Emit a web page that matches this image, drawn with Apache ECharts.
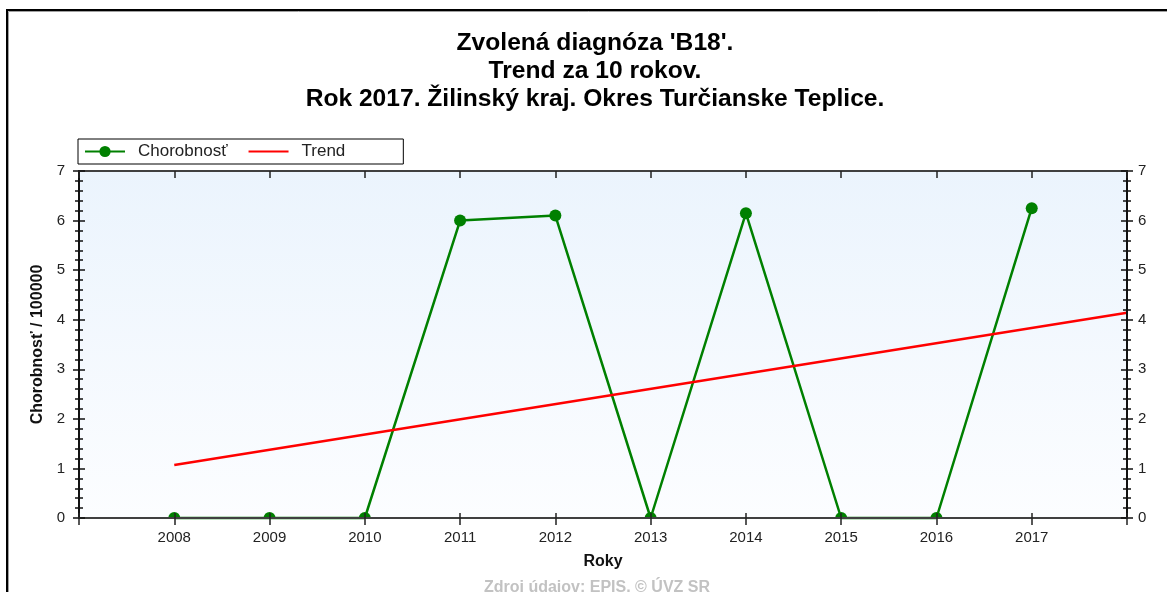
<!DOCTYPE html>
<html>
<head>
<meta charset="utf-8">
<script src="https://cdn.jsdelivr.net/npm/echarts@6/dist/echarts.min.js"></script>
<style>
  html, body { margin: 0; padding: 0; background: #fff; }
  #chart { width: 1167px; height: 592px; }
</style>
</head>
<body>
<div id="chart"></div>
<script>
// Incidence per 100 000 inhabitants, district Turčianske Teplice
var years = [2008, 2009, 2010, 2011, 2012, 2013, 2014, 2015, 2016, 2017];
var incidence = [0, 0, 0, 6.0, 6.1, 0, 6.15, 0, 0, 6.25];

// Linear trend, drawn between its two end points
var trendYears = [2008, 2018];
var trendValues = [1.07, 4.14];

var yTicks = [0, 1, 2, 3, 4, 5, 6, 7];

var titleLines = [
  "Zvolená diagnóza 'B18'.",
  'Trend za 10 rokov.',
  'Rok 2017. Žilinský kraj. Okres Turčianske Teplice.'
];
var sourceText = 'Zdroj údajov: EPIS. © ÚVZ SR';

var FONT = '"Liberation Sans", Arial, sans-serif';
var GREEN = '#008000';
var RED = '#ff0000';

// Points sitting on the zero line show only their upper half
var halfDot = 'path://M0,10 A10,10 0 0 1 20,10 Z';
var incidenceData = years.map(function (y, i) {
  var v = incidence[i];
  if (v === 0) {
    return { value: [y, v], symbol: halfDot, symbolSize: [12, 6], symbolOffset: [0, -3] };
  }
  return { value: [y, v] };
});
var trendData = trendYears.map(function (y, i) { return [y, trendValues[i]]; });

var xMin = years[0] - 1, xMax = years[years.length - 1] + 1;
var yMin = yTicks[0], yMax = yTicks[yTicks.length - 1];

var gridBox = { left: 79, top: 171, width: 1048, height: 347 };

function yearLabel(v) { return years.indexOf(v) >= 0 ? String(v) : ''; }

var xBase = {
  type: 'value', min: xMin, max: xMax, interval: 1,
  splitLine: { show: false },
  axisLine: { show: true, onZero: false, lineStyle: { color: '#404040', width: 2 } },
  z: 3
};
var yBase = {
  type: 'value', min: yMin, max: yMax, interval: 1,
  splitLine: { show: false },
  axisLine: { show: true, onZero: false, lineStyle: { color: '#111', width: 2 } },
  minorTick: { show: true, splitNumber: 5, length: 4, lineStyle: { color: '#111', width: 1.5 } },
  z: 3
};
function merge(a, b) { return Object.assign({}, a, b); }

var chart = echarts.init(document.getElementById('chart'), null, { renderer: 'canvas' });
chart.setOption({
  backgroundColor: '#fff',
  animation: false,
  textStyle: { fontFamily: FONT },
  graphic: [
    { type: 'rect', z: 0, shape: { x: 8.5, y: 11.5, width: 1300, height: 700 },
      style: { fill: null, stroke: '#a0a0a0', lineWidth: 1 } },
    { type: 'rect', z: 1, shape: { x: 7, y: 10, width: 1300, height: 700 },
      style: { fill: null, stroke: '#000', lineWidth: 2 } }
  ],
  title: [
    {
      text: titleLines.join('\n'),
      left: 590, top: 24, textAlign: 'center',
      textStyle: { fontFamily: FONT, fontSize: 24.6, fontWeight: 'bold', color: '#000', lineHeight: 28 }
    },
    {
      text: sourceText,
      left: 592, top: 575, textAlign: 'center',
      textStyle: { fontFamily: FONT, fontSize: 16, fontWeight: 'bold', color: '#c2c2c2' }
    }
  ],
  legend: {
    left: 78, top: 139,
    padding: [4, 58, 4, 6],
    itemWidth: 40, itemHeight: 14, itemGap: 20,
    borderColor: '#000', borderWidth: 1, borderRadius: 0,
    backgroundColor: '#fff',
    textStyle: { fontFamily: FONT, fontSize: 17, color: '#222', padding: [0, 0, 0, 8] },
    data: [
      { name: 'Chorobnosť' },
      { name: 'Trend', itemStyle: { opacity: 0 } }
    ]
  },
  grid: [
    merge(gridBox, {
      show: true, borderWidth: 0,
      backgroundColor: new echarts.graphic.LinearGradient(0, 0, 0, 1, [
        { offset: 0, color: '#ebf4fd' },
        { offset: 1, color: '#fcfdff' }
      ])
    }),
    merge(gridBox, { show: false })
  ],
  xAxis: [
    merge(xBase, {
      gridIndex: 0, position: 'bottom',
      axisTick: { show: true, inside: false, length: 7, lineStyle: { color: '#222', width: 1.5 } },
      axisLabel: { show: true, margin: 12, fontFamily: FONT, fontSize: 15, color: '#222', formatter: yearLabel },
      name: 'Roky', nameLocation: 'middle', nameGap: 36,
      nameTextStyle: { fontFamily: FONT, fontSize: 16, fontWeight: 'bold', color: '#111' }
    }),
    merge(xBase, {
      gridIndex: 0, position: 'top',
      axisTick: { show: true, inside: true, length: 7, lineStyle: { color: '#222', width: 1.5 } },
      axisLabel: { show: false }
    }),
    merge(xBase, {
      gridIndex: 1, position: 'bottom',
      axisTick: { show: true, inside: true, length: 5, lineStyle: { color: '#222', width: 1.5 } },
      axisLabel: { show: false }
    })
  ],
  yAxis: [
    merge(yBase, {
      gridIndex: 0, position: 'left',
      axisTick: { show: true, inside: false, length: 6, lineStyle: { color: '#111', width: 1.5 } },
      axisLabel: { show: true, margin: 14, fontFamily: FONT, fontSize: 15, color: '#222' },
      name: 'Chorobnosť / 100000', nameLocation: 'middle', nameGap: 25,
      nameTextStyle: { fontFamily: FONT, fontSize: 16, fontWeight: 'bold', color: '#111' }
    }),
    merge(yBase, {
      gridIndex: 0, position: 'right',
      axisTick: { show: true, inside: false, length: 6, lineStyle: { color: '#111', width: 1.5 } },
      axisLabel: { show: true, margin: 11, fontFamily: FONT, fontSize: 15, color: '#222' }
    }),
    merge(yBase, {
      gridIndex: 1, position: 'left',
      axisTick: { show: true, inside: true, length: 6, lineStyle: { color: '#111', width: 1.5 } },
      axisLabel: { show: false }
    }),
    merge(yBase, {
      gridIndex: 1, position: 'right',
      axisTick: { show: true, inside: true, length: 6, lineStyle: { color: '#111', width: 1.5 } },
      axisLabel: { show: false }
    })
  ],
  series: [
    {
      name: 'Chorobnosť', type: 'line',
      xAxisIndex: 0, yAxisIndex: 0,
      data: incidenceData,
      symbol: 'circle', symbolSize: 12, showAllSymbol: true,
      color: GREEN,
      itemStyle: { color: GREEN },
      lineStyle: { color: GREEN, width: 2.5 },
      clip: false, z: 2
    },
    {
      name: 'Trend', type: 'line',
      xAxisIndex: 0, yAxisIndex: 0,
      data: trendData,
      symbol: 'none',
      color: RED,
      lineStyle: { color: RED, width: 2.5 },
      z: 2
    }
  ]
});
</script>
</body>
</html>
